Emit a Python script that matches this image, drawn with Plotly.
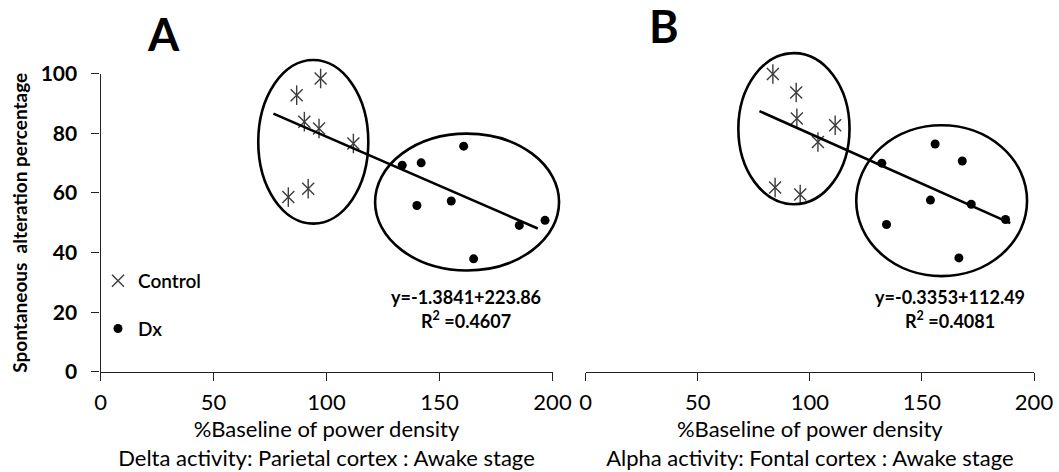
import numpy as np
import plotly.graph_objects as go

W, H = 1059, 472

# ---- data -------------------------------------------------------------
# Panel A: delta activity, parietal cortex
ctrl_a_x = [96.4, 97.4, 86.8, 90.2, 96.7, 111.9, 91.9, 83.1]
ctrl_a_y = [100.1, 98.4, 92.8, 83.9, 81.6, 76.6, 61.4, 58.6]
dx_a_x = [133.5, 141.9, 160.7, 140.0, 155.2, 185.3, 196.7, 165.1]
dx_a_y = [69.3, 70.1, 75.7, 55.8, 57.3, 49.1, 50.8, 37.9]

# Panel B: alpha activity, frontal cortex
ctrl_b_x = [83.5, 103.6, 93.9, 94.2, 111.3, 103.6, 84.5, 95.7]
ctrl_b_y = [99.9, 101.3, 93.7, 85.0, 82.7, 77.1, 61.8, 59.5]
dx_b_x = [132.1, 155.9, 168.0, 153.8, 172.0, 187.3, 134.2, 166.5]
dx_b_y = [70.0, 76.4, 70.7, 57.6, 56.2, 51.1, 49.4, 38.2]

# x-extent over which each trend line is drawn
trend_span_a = [76.5, 193.5]
trend_span_b = [77.5, 189.4]

eq_text_a = "y=-1.3841+223.86"
r2_text_a = "0.4607"
eq_text_b = "y=-0.3353+112.49"
r2_text_b = "0.4081"

x_ticks = [0, 50, 100, 150, 200]
y_ticks = [0, 20, 40, 60, 80, 100]
X_RANGE = [0, 200]
Y_RANGE = [0, 100]

# ---- layout geometry (pixels) ----------------------------------------
def px_x(p):
    return p / W

def px_y(p):
    return 1 - p / H

dom_xa = [px_x(100.5), px_x(552.5)]
dom_xb = [px_x(585.7), px_x(1034.0)]
dom_y = [px_y(371.8), px_y(73.7)]

FONT = "Lato, 'Open Sans', sans-serif"
STAR_COLOR = "#3c3c3c"

fig = go.Figure()


def add_panel(fig, cx, cy, dx, dy, span, xa, ya, legend):
    # control group: six-armed star = thin X + vertical bar
    fig.add_trace(go.Scatter(
        x=cx, y=cy, mode="markers", name="Control", xaxis=xa, yaxis=ya,
        marker=dict(symbol="x-thin-open", size=12, color=STAR_COLOR,
                    line=dict(color=STAR_COLOR, width=1.4)),
        cliponaxis=False, showlegend=legend, legendgroup="ctl"))
    fig.add_trace(go.Scatter(
        x=cx, y=cy, mode="markers", name="Control", xaxis=xa, yaxis=ya,
        marker=dict(symbol="line-ns-open", size=14, color=STAR_COLOR,
                    line=dict(color=STAR_COLOR, width=1.4)),
        cliponaxis=False, showlegend=False, legendgroup="ctl"))
    fig.add_trace(go.Scatter(
        x=dx, y=dy, mode="markers", name="Dx", xaxis=xa, yaxis=ya,
        marker=dict(symbol="circle", size=9, color="black"),
        cliponaxis=False, showlegend=legend, legendgroup="dx"))
    # least-squares trend over all animals
    all_x = np.array(cx + dx)
    all_y = np.array(cy + dy)
    slope, intercept = np.polyfit(all_x, all_y, 1)
    tx = np.array(span)
    fig.add_trace(go.Scatter(
        x=tx, y=slope * tx + intercept, mode="lines", xaxis=xa, yaxis=ya,
        line=dict(color="black", width=2.6), cliponaxis=False,
        showlegend=False, hoverinfo="skip"))


add_panel(fig, ctrl_a_x, ctrl_a_y, dx_a_x, dx_a_y, trend_span_a, "x", "y", True)
add_panel(fig, ctrl_b_x, ctrl_b_y, dx_b_x, dx_b_y, trend_span_b, "x2", "y2", False)

# group outlines (x0, x1, y0, y1 in data units), drawn unclipped
outlines = [
    ("x", "y", (69.8, 118.5, 49.7, 104.6)),
    ("x", "y", (121.5, 202.9, 34.0, 79.9)),
    ("x2", "y2", (68.1, 117.7, 56.2, 106.9)),
    ("x2", "y2", (120.7, 196.9, 32.1, 82.7)),
]


def to_dom(v, rng):
    return (v - rng[0]) / (rng[1] - rng[0])


for xa, ya, (x0, x1, y0, y1) in outlines:
    fig.add_shape(type="circle", xref=f"{xa} domain", yref=f"{ya} domain",
                  x0=to_dom(x0, X_RANGE), x1=to_dom(x1, X_RANGE),
                  y0=to_dom(y0, Y_RANGE), y1=to_dom(y1, Y_RANGE),
                  line=dict(color="black", width=2.6), layer="above")

axis_common = dict(
    showgrid=False, zeroline=False, showline=True, linecolor="#222",
    linewidth=1.2, ticks="outside", ticklen=8, tickwidth=1.2,
    tickcolor="#222", automargin=False,
)

xtitle_font = dict(family=FONT, size=22, color="black")
tick_font = dict(family=FONT, size=22, color="black")

fig.update_layout(
    width=W, height=H,
    margin=dict(l=0, r=0, t=0, b=0),
    paper_bgcolor="white", plot_bgcolor="white",
    font=dict(family=FONT, color="black"),
    xaxis=dict(domain=dom_xa, range=X_RANGE, tickvals=x_ticks,
               tickfont=tick_font, ticklabelstandoff=3, anchor="y",
               title=dict(text="%Baseline of power density<br>"
                               "Delta activity: Parietal cortex : Awake stage",
                          font=xtitle_font, standoff=6),
               **axis_common),
    yaxis=dict(domain=dom_y, range=Y_RANGE, tickvals=y_ticks,
               tickfont=dict(family=FONT, size=21, color="black", weight="bold"),
               ticklabelstandoff=10, anchor="x",
               title=dict(text="Spontaneous  alteration percentage",
                          font=dict(family=FONT, size=19, color="black",
                                    weight="bold"), standoff=8),
               **axis_common),
    xaxis2=dict(domain=dom_xb, range=X_RANGE, tickvals=x_ticks,
                tickfont=tick_font, ticklabelstandoff=3, anchor="y2",
                title=dict(text="%Baseline of power density<br>"
                                "Alpha activity: Fontal cortex : Awake stage",
                           font=xtitle_font, standoff=6),
                **axis_common),
    yaxis2=dict(domain=dom_y, range=Y_RANGE, anchor="x2", visible=False),
    legend=dict(x=px_x(98), y=px_y(262), xanchor="left", yanchor="top",
                bgcolor="rgba(0,0,0,0)", tracegroupgap=20,
                font=dict(family=FONT, size=19, color="black", weight=600)),
    showlegend=True,
)

annotations = [
    dict(text="A", x=px_x(163), y=px_y(34)),
    dict(text="B", x=px_x(664), y=px_y(26)),
]
for a in annotations:
    fig.add_annotation(xref="paper", yref="paper", showarrow=False,
                       xanchor="center", yanchor="middle",
                       font=dict(family=FONT, size=45, color="black",
                                 weight="bold"), **a)

for cx, eq, r2 in [(466, eq_text_a, r2_text_a), (950, eq_text_b, r2_text_b)]:
    fig.add_annotation(xref="paper", yref="paper", showarrow=False,
                       x=px_x(cx), y=px_y(297), xanchor="center",
                       yanchor="middle", text=eq,
                       font=dict(family=FONT, size=18, color="black",
                                 weight="bold"))
    fig.add_annotation(xref="paper", yref="paper", showarrow=False,
                       x=px_x(cx), y=px_y(320), xanchor="center",
                       yanchor="middle", text=f"R<sup>2</sup> ={r2}",
                       font=dict(family=FONT, size=18, color="black",
                                 weight="bold"))

fig.write_html("out.html")
